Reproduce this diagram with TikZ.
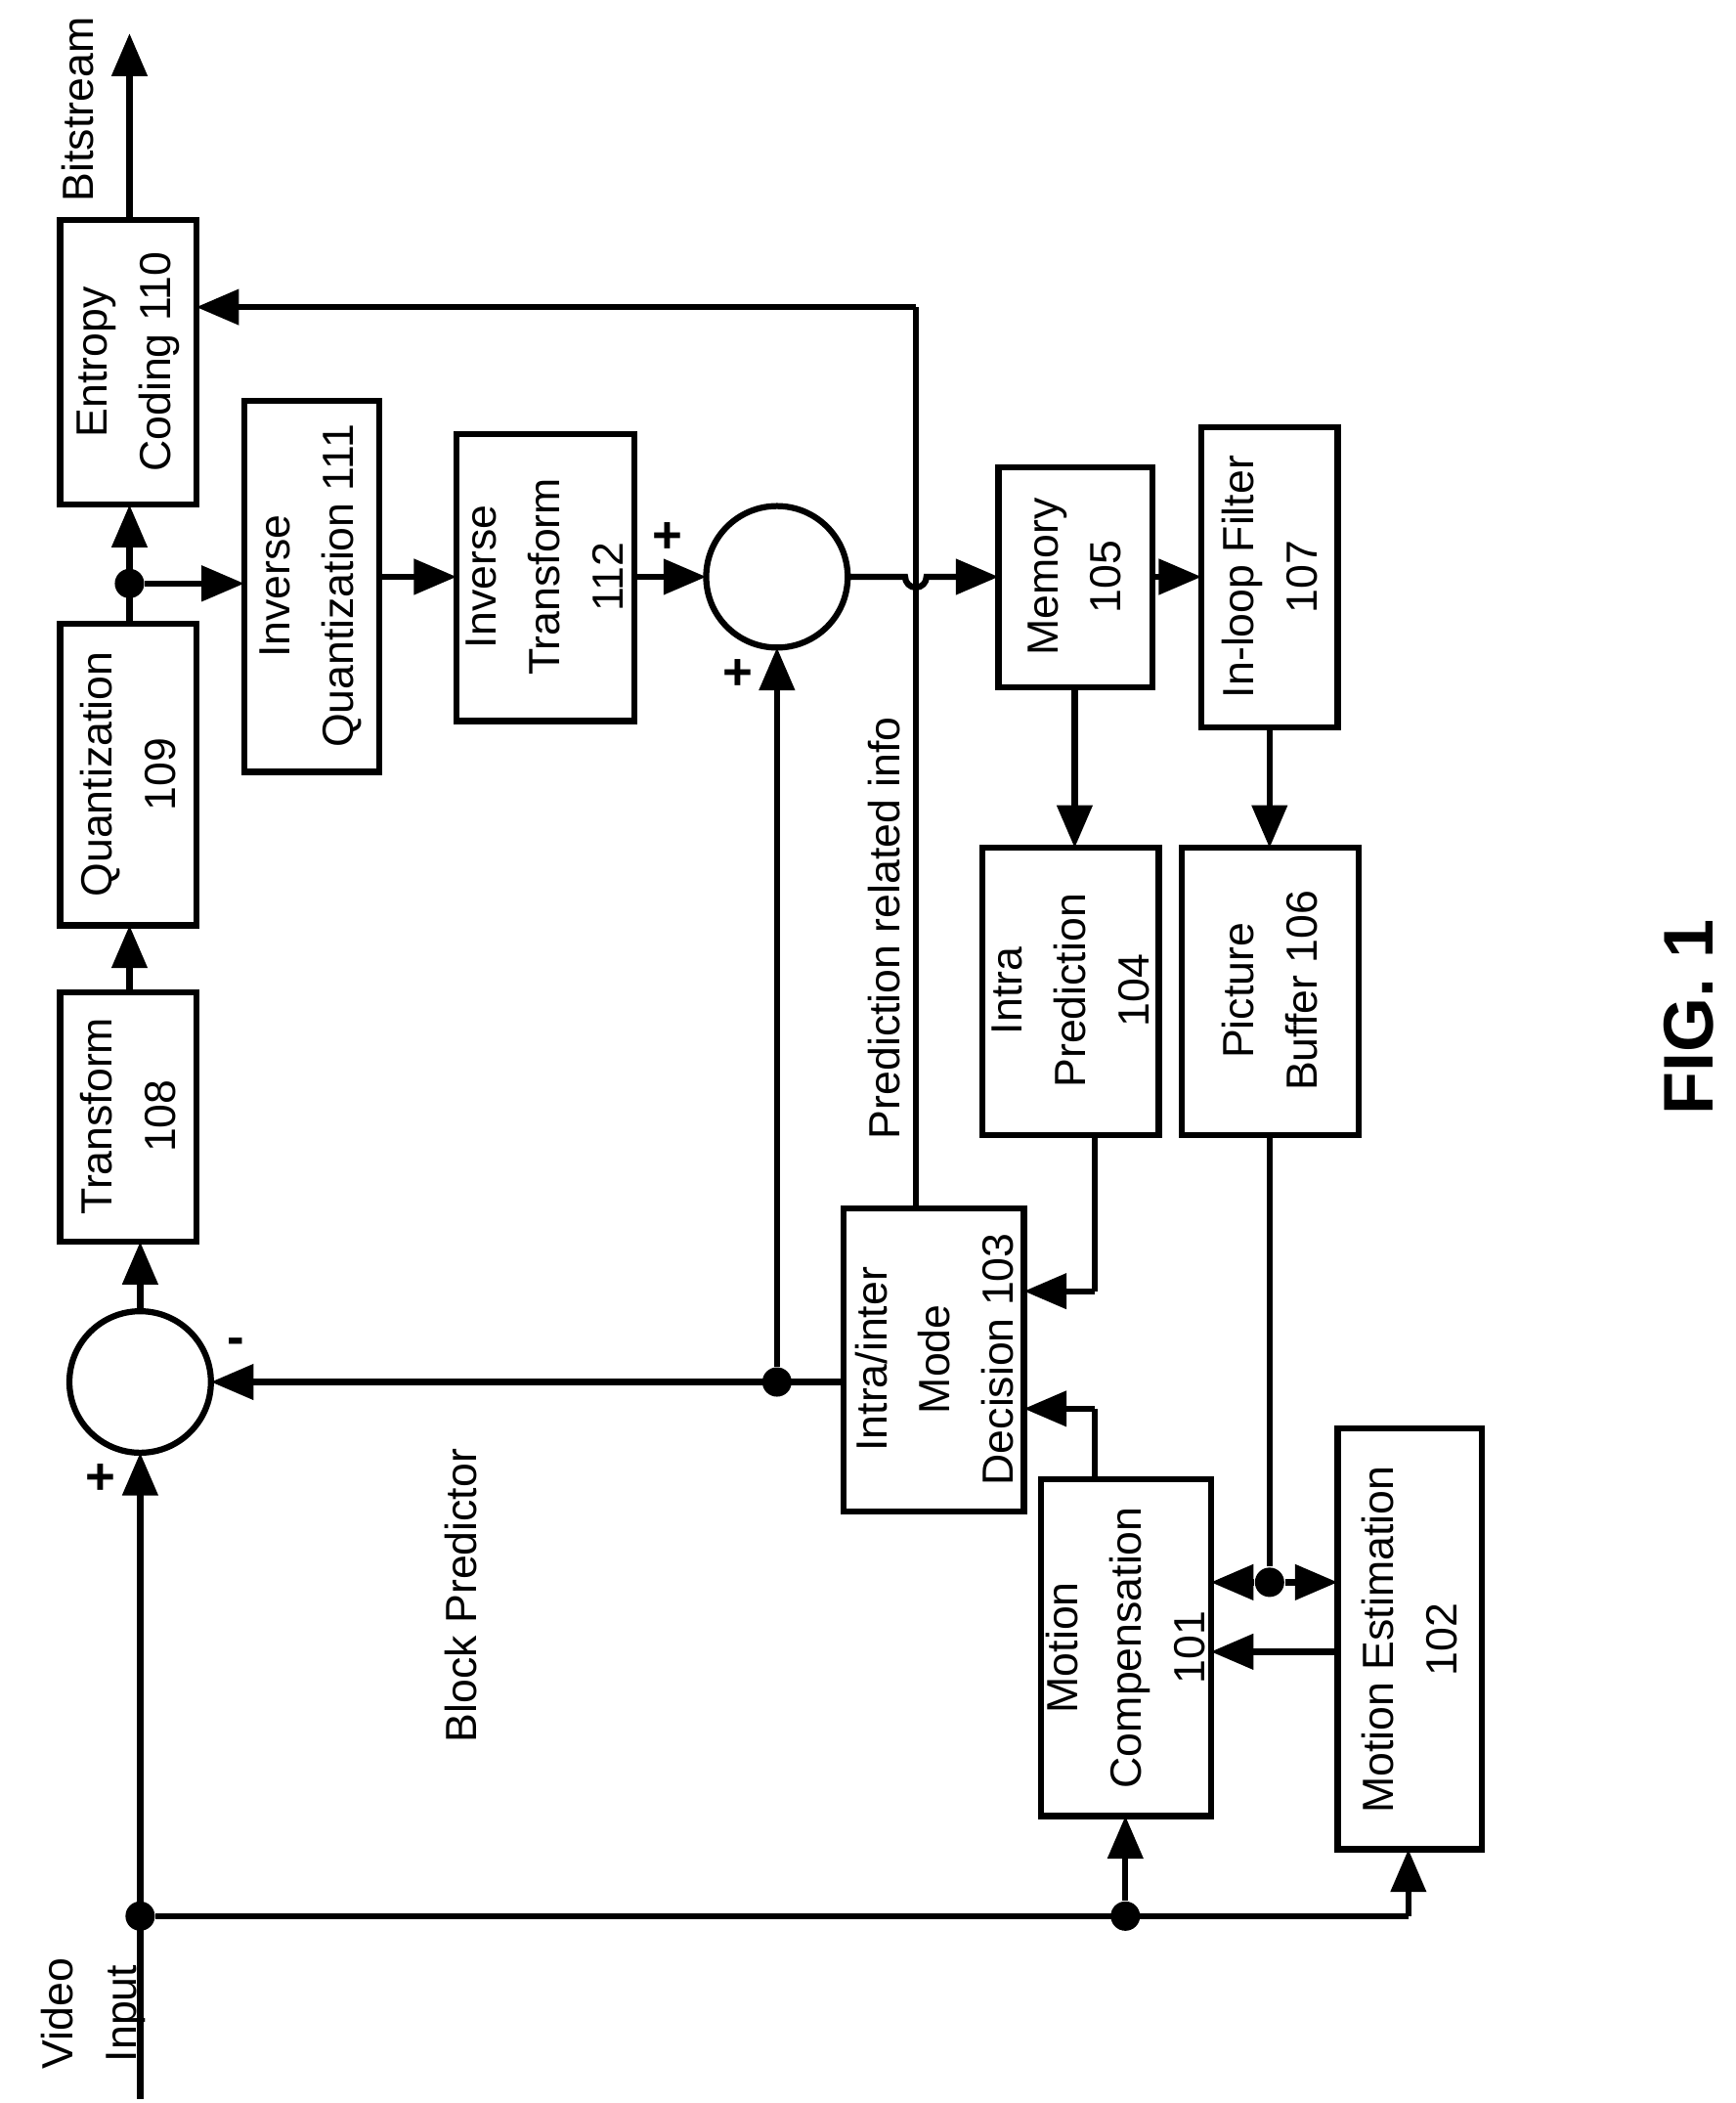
\documentclass[tikz,border=0pt]{standalone}
\usepackage{fontspec}
\setmainfont{Liberation Sans}
\usetikzlibrary{arrows.meta}
\begin{document}
\begin{tikzpicture}[x=0.1mm,y=-0.1mm,
  box/.style={draw,line width=1.3pt,inner sep=0pt},
  lab/.style={rotate=90,align=center,font=\fontsize{9.3}{13.5}\selectfont},
  ar/.style={line width=1.3pt,-{Triangle[length=3.2mm,width=2.6mm]}},
  ln/.style={line width=1.3pt},
  dot/.style={circle,fill,inner sep=0pt,minimum size=2.2mm}]
\useasboundingbox (0,0) rectangle (1300,1575);
% boxes
\draw[box] (45,165) rectangle (147,378); \node[lab] (ec) at (96,271) {Entropy\\Coding 110};
\draw[box] (45,467) rectangle (147,693); \node[lab] (q) at (96,580) {Quantization\\109};
\draw[box] (45,743) rectangle (147,930); \node[lab] (t) at (96,836) {Transform\\108};
\draw[box] (183,300) rectangle (284,578); \node[lab] (iq) at (233,439) {Inverse\\Quantization 111};
\draw[box] (342,325) rectangle (475,540); \node[lab] (it) at (408,432) {Inverse\\Transform\\112};
\draw[box] (748,350) rectangle (863,515); \node[lab] (m) at (805,432) {Memory\\105};
\draw[box] (900,320) rectangle (1002,545); \node[lab] (f) at (951,432) {In-loop Filter\\107};
\draw[box] (736,635) rectangle (868,850); \node[lab] (ip) at (802,742) {Intra\\Prediction\\104};
\draw[box] (885,635) rectangle (1018,850); \node[lab] (pb) at (951,742) {Picture\\Buffer 106};
\draw[box] (632,905) rectangle (767,1132); \node[lab] (md) at (700,1018) {Intra/inter\\Mode\\Decision 103};
\draw[box] (780,1108) rectangle (907,1360); \node[lab] (mc) at (843,1234) {Motion\\Compensation\\101};
\draw[box] (1002,1070) rectangle (1110,1385); \node[lab] (me) at (1056,1228) {Motion Estimation\\102};
\draw[box] (582,432) circle (53); \coordinate (c1) at (582,432);
\draw[box] (105,1035) circle (53); \coordinate (c2) at (105,1035);
% texts
\node[lab] (bs) at (58,82) {Bitstream};
\node[lab] (vi) at (70,1508) {Video\\Input};
\node[lab] (bp) at (345,1195) {Block Predictor};
\node[lab] (pri) at (662,695) {Prediction related info};
\node[rotate=90,font=\bfseries\fontsize{15}{18}\selectfont] (fig) at (1265,762) {FIG. 1};
\node[font=\bfseries\fontsize{11}{13}\selectfont] (p1) at (500,403) {+};
\node[font=\bfseries\fontsize{11}{13}\selectfont] (p2) at (553,505) {+};
\node[font=\bfseries\fontsize{11}{13}\selectfont] (p3) at (75,1108) {+};
\node[font=\bfseries\fontsize{11}{13}\selectfont] (mn) at (177,1008) {-};
% dots
\node[dot] (d1) at (105,1435) {};
\node[dot] (d2) at (843,1435) {};
\node[dot] (d3) at (97,437) {};
\node[dot] (d4) at (582,1035) {};
\node[dot] (d5) at (951,1185) {};
% connectors
\draw[ar] (105,1572) -- (105,1088);
\draw[ln] (d1) -- (1055,1435); \draw[ar] (1055,1435) -- (1055,1385);
\draw[ar] (d2) -- (843,1360);
\draw[ar] (105,982) -- (105,930);
\draw[ar] (97,743) -- (97,693);
\draw[ar] (97,467) -- (97,378);
\draw[ar] (d3) -- (183,437);
\draw[ar] (284,432) -- (342,432);
\draw[ar] (475,432) -- (529,432);
\draw[ar] (635,432) -- (678,432) arc[start angle=180,end angle=0,radius=8] -- (748,432);
\draw[ln] (686,905) -- (686,230); \draw[ar] (686,230) -- (147,230);
\draw[ar] (863,432) -- (900,432);
\draw[ar] (805,515) -- (805,635);
\draw[ar] (951,545) -- (951,635);
\draw[ln] (820,850) -- (820,967); \draw[ar] (820,967) -- (767,967);
\draw[ln] (820,1108) -- (820,1055); \draw[ar] (820,1055) -- (767,1055);
\draw[ln] (951,850) -- (d5);
\draw[ar] (d5) -- (907,1185);
\draw[ar] (d5) -- (1002,1185);
\draw[ar] (1002,1237) -- (907,1237);
\draw[ar] (632,1035) -- (158,1035);
\draw[ar] (d4) -- (582,485);
\draw[ar] (97,165) -- (97,25);
\end{tikzpicture}
\end{document}
